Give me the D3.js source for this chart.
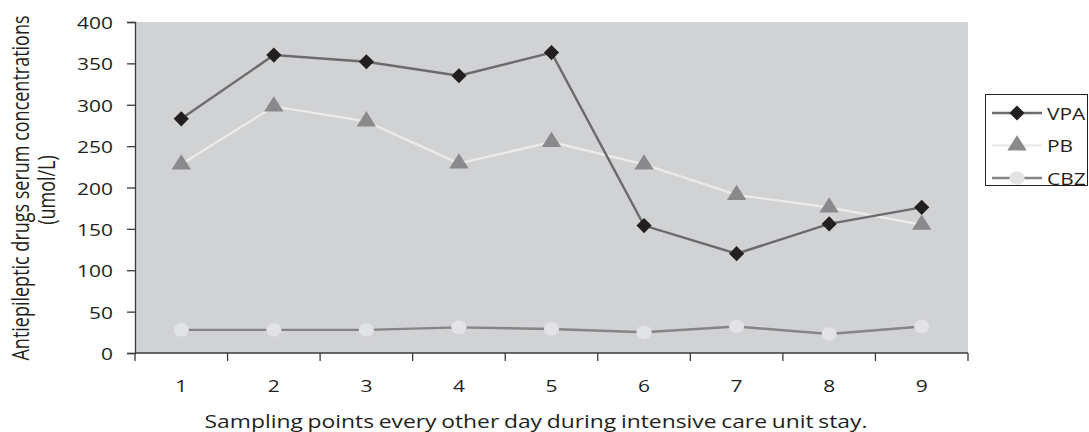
<!DOCTYPE html>
<html>
<head>
<meta charset="utf-8">
<script src="https://cdn.jsdelivr.net/npm/d3@7"></script>
<style>
  html, body { margin: 0; padding: 0; background: #fff; }
  svg text { font-family: "Open Sans", "Noto Sans", sans-serif; fill: #231f20; }
</style>
</head>
<body>
<svg id="chart" width="1089" height="432"></svg>
<script>
// Sampling points (every other day in ICU)
const samplingPoints = [1, 2, 3, 4, 5, 6, 7, 8, 9];
// Serum concentrations, umol/L
const vpaValues = [283, 360, 352, 335, 363, 154, 120, 156, 176];
const pbValues  = [228, 298, 280, 229, 255, 228, 191, 176, 155];
const cbzValues = [28, 28, 28, 31, 29, 25, 32, 23, 32];
const yTickValues = [0, 50, 100, 150, 200, 250, 300, 350, 400];

const svg = d3.select("#chart");
const plot = { left: 135, right: 968, top: 22, bottom: 353 };
const WIDE = 1.27; // horizontal widening of the type

const x = d3.scaleBand().domain(samplingPoints).range([plot.left, plot.right]);
const y = d3.scaleLinear().domain([0, 400]).range([plot.bottom, plot.top]);
const cx = d => x(d) + x.bandwidth() / 2;

// draws text at (px, py) widened horizontally
function wideText(g, px, py, str, size, anchor) {
  return g.append("text")
    .attr("transform", `translate(${px},${py}) scale(${WIDE},1)`)
    .attr("text-anchor", anchor || "start")
    .style("font-size", size + "px")
    .text(str);
}

// plot area fill
svg.append("rect")
  .attr("x", plot.left).attr("y", plot.top)
  .attr("width", plot.right - plot.left).attr("height", plot.bottom - plot.top)
  .attr("fill", "#d1d2d4");

// y axis
const yAxis = svg.append("g")
  .attr("transform", `translate(${plot.left},0)`)
  .call(d3.axisLeft(y).tickValues(yTickValues).tickSize(8).tickFormat(""));
yAxis.select(".domain").attr("stroke", "#3a3a3a").attr("stroke-width", 1.3);
yAxis.selectAll(".tick line").attr("stroke", "#3a3a3a").attr("stroke-width", 1.3);
yAxis.selectAll(".tick").each(function(d) {
  wideText(d3.select(this), -22, 6.5, d, 16.5, "end");
});

// x axis: labels centred in each band, ticks on band boundaries
const xAxisG = svg.append("g").attr("transform", `translate(0,${plot.bottom})`);
xAxisG.append("line")
  .attr("x1", plot.left).attr("x2", plot.right)
  .attr("stroke", "#3a3a3a").attr("stroke-width", 1.3);
const boundaries = samplingPoints.map(d => x(d)).concat([plot.right]);
xAxisG.selectAll("line.tick").data(boundaries).enter().append("line")
  .attr("class", "tick")
  .attr("x1", d => d).attr("x2", d => d).attr("y1", 0).attr("y2", 8)
  .attr("stroke", "#3a3a3a").attr("stroke-width", 1.3);
samplingPoints.forEach(d => wideText(xAxisG, cx(d), 39, d, 16.5, "middle"));

// series
const line = d3.line().x((d, i) => cx(samplingPoints[i])).y(d => y(d));

svg.append("path").datum(pbValues).attr("d", line)
  .attr("fill", "none").attr("stroke", "#ebebeb").attr("stroke-width", 2.4);
svg.append("path").datum(cbzValues).attr("d", line)
  .attr("fill", "none").attr("stroke", "#858587").attr("stroke-width", 2.4);
svg.append("path").datum(vpaValues).attr("d", line)
  .attr("fill", "none").attr("stroke", "#6b6b6d").attr("stroke-width", 2.4);

const diamond = d3.symbol().type(d3.symbolSquare).size(115);
const triangle = d3.symbol().type(d3.symbolTriangle).size(135);
const circle = d3.symbol().type(d3.symbolCircle).size(145);

svg.selectAll("path.vpa").data(vpaValues).enter().append("path")
  .attr("class", "vpa")
  .attr("d", diamond)
  .attr("transform", (d, i) => `translate(${cx(samplingPoints[i])},${y(d)}) rotate(45)`)
  .attr("fill", "#231f20");
svg.selectAll("path.pb").data(pbValues).enter().append("path")
  .attr("class", "pb")
  .attr("d", triangle)
  .attr("transform", (d, i) => `translate(${cx(samplingPoints[i])},${y(d)}) scale(1.1,1)`)
  .attr("fill", "#8a8a8c");
svg.selectAll("path.cbz").data(cbzValues).enter().append("path")
  .attr("class", "cbz")
  .attr("d", circle)
  .attr("transform", (d, i) => `translate(${cx(samplingPoints[i])},${y(d)}) scale(1.12,1)`)
  .attr("fill", "#e2e3e5");

// axis titles
svg.append("text")
  .attr("transform", `translate(29,188) scale(${WIDE},1) rotate(-90)`)
  .attr("text-anchor", "middle")
  .style("font-size", "18px")
  .text("Antiepileptic drugs serum concentrations");
svg.append("text")
  .attr("transform", `translate(55,190) scale(${WIDE},1) rotate(-90)`)
  .attr("text-anchor", "middle")
  .style("font-size", "18px")
  .text("(umol/L)");
wideText(svg, 536, 428, "Sampling points every other day during intensive care unit stay.", 18, "middle")
  .style("word-spacing", "-1px");

// legend
const legendItems = [
  { name: "VPA", stroke: "#6b6b6d", symbol: diamond, tf: "rotate(45)", fill: "#231f20" },
  { name: "PB", stroke: "#ebebeb", symbol: triangle, tf: "scale(1.1,1)", fill: "#8a8a8c" },
  { name: "CBZ", stroke: "#858587", symbol: circle, tf: "scale(1.12,1)", fill: "#e2e3e5" }
];
const legend = svg.append("g");
legend.append("rect")
  .attr("x", 985.5).attr("y", 94.5).attr("width", 102).attr("height", 91)
  .attr("fill", "#fff").attr("stroke", "#231f20").attr("stroke-width", 1);
const rows = legend.selectAll("g.row").data(legendItems).enter().append("g")
  .attr("class", "row")
  .attr("transform", (d, i) => `translate(0,${113 + i * 32.5})`);
rows.append("line").attr("x1", 992).attr("x2", 1042)
  .attr("stroke", d => d.stroke).attr("stroke-width", 2.4);
rows.append("path").attr("d", d => d.symbol())
  .attr("transform", d => `translate(1017,0) ${d.tf}`)
  .attr("fill", d => d.fill);
rows.each(function(d) { wideText(d3.select(this), 1047, 6.5, d.name, 16.5); });
</script>
</body>
</html>
